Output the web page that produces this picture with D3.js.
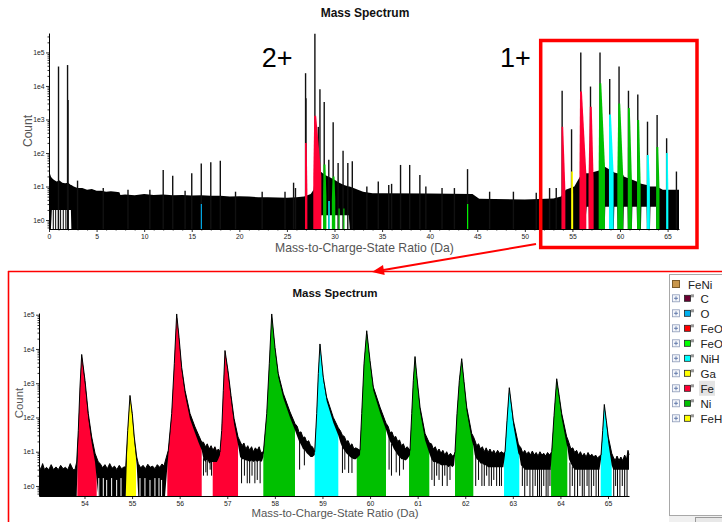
<!DOCTYPE html>
<html><head><meta charset="utf-8">
<script src="https://cdn.jsdelivr.net/npm/d3@7"></script>
<style>
html,body{margin:0;padding:0;background:#fff;overflow:hidden;}
svg{display:block;}
text{font-family:"Liberation Sans",Arial,sans-serif;}
</style></head><body>
<svg id="c" width="722" height="522"></svg>
<script>
// ---------------- text ----------------
const chartTitle = "Mass Spectrum";
const xLabel = "Mass-to-Charge-State Ratio (Da)";
const yLabel = "Count";
const chargeLabels = ["2+", "1+"];
const chargeLabelMass = [22.35, 47.4];

// ---------------- ions (legend) ----------------
const treeRoot = "FeNi";
const ionNames  = ["C", "O", "FeO", "FeO2", "NiH", "Ga", "Fe", "Ni", "FeH"];
const ionColors = ["#6b0032", "#00b0f0", "#ff0000", "#00ff00", "#00ffff", "#ffff00", "#ff0033", "#00c000", "#ffff00"];

// ---------------- ticks ----------------
const yTickValues = [1, 10, 100, 1000, 10000, 100000];
const yTickLabels = ["1e0", "1e1", "1e2", "1e3", "1e4", "1e5"];
const topXTicks  = [0, 5, 10, 15, 20, 25, 30, 35, 40, 45, 50, 55, 60, 65];
const zoomXTicks = [54, 55, 56, 57, 58, 59, 60, 61, 62, 63, 64, 65];

// ---------------- full spectrum (top) : noise band ----------------
const topMass  = [0.0,0.1,0.2,0.3,0.5,0.8,1.1,1.4,1.7,2.0,2.3,2.35,2.6,3.0,3.5,4.0,4.5,5.0,5.5,6.0,6.5,7.0,7.4,7.5,8,9,10,11,12,13,14,15,16,17,18,19,20,21,22,23,24,25,26,26.8,27.5,27.8,28.0,28.5,28.6,29.0,29.5,30.0,30.5,31.0,31.5,31.6,32.0,33.0,34.0,35,40,44.5,45.2,50,53.0,53.8,54.3,55.2,55.8,56.3,56.5,56.7,56.75,57.8,58.4,58.45,58.85,58.9,59.35,59.4,59.7,59.75,60.35,60.4,60.8,60.85,61.25,61.3,61.75,61.8,62.2,62.25,62.8,62.85,63.15,63.2,63.8,63.85,64.5,65.0,65.5,66.2];
const topUpper = [28,24,20,18,16,14,15,13,12.5,13,11,11,10,9,9,8,8.5,7.5,7.5,7,7.2,7,6.8,5.6,5.8,5.5,6,5.6,5.8,5.5,5.6,5.4,5.5,5.3,5.3,5.0,5.1,5.0,4.8,4.8,4.7,4.6,4.8,5,6,8,30,28,27,22,19,16,13,11,10,10,9,7,6.3,6.3,6.2,6,4.3,4.1,4.4,5,8,10,20,25,25,25,25,30,39,38,33,30,27,26,25,25,22,20,18,18,16,16,14,14,12,12,11,11,10,10,10,10,8,8,8,8];
const topLower = [0,0,0,2,2,2,2,2,2,2,2,0,0,0,0,0,0,0,0,0,0,0,0,0,0,0,0,0,0,0,0,0,0,0,0,0,0,0,0,0,0,0,0,0,0,0,0,0,1.4,1.4,1.4,1.4,1.4,1.4,1.4,0,0,0,0,0,0,0,0,0,0,0,0,0,0,0,2.5,2.5,0,0,0,2.5,2.5,0,0,2.5,2.5,0,0,2.5,2.5,0,0,2.5,2.5,0,0,2.5,2.5,0,0,2.5,2.5,0,0,0,0,0];
// zero-count bins at low mass
const topZeroMass = [0.45, 0.7, 0.98, 1.22, 1.5, 1.77, 2.03];
// single-bin spikes (mass, count)
const topSpikeMass  = [1.00,1.95,2.00,3.0,5.7,8.3,10.6,12.0,13.0,14.3,15.0,16.0,17.0,18.0,19.6,22.4,24.8,25.7,25.9,26.96,27.0,27.94,28.3,28.47,28.92,29.4,29.86,30.38,30.9,31.4,31.87,33.4,34.6,35.7,36.0,36.94,37.9,38.97,39.6,41.3,42.6,43.98,46.3,48.8,51.2,52.6,53.3,53.92,54.91,55.88,56.9,57.9,58.92,59.9,60.89,61.87,62.89,63.9,64.9,65.93];
const topSpikeCount = [38000,42000,3800,15,9,8,8,31,21,7.5,25,49,53,59,7,7,7,13,9,24000,4300,360000,600,8000,3300,63,820,50,117,50,57,10,14,11,12,44,44,22,10,9,9,33,7,7,6.5,9,9,7200,510,100000,9600,100000,16000,38000,7200,5600,860,1370,275,28];
// ranged (coloured) peaks in the full spectrum
const topRangeIon   = ["O","Fe","Fe","Ni","NiH","Ni","Ni","Ni","FeO2","Fe","Ga","Fe","Fe","Ni","NiH","Ni","Ni","Ni","NiH","Ni","NiH"];
const topRangeStart = [15.95,26.9,27.77,28.8,29.35,29.72,30.42,30.92,43.93,53.85,54.87,55.74,56.69,57.76,58.84,59.72,60.82,61.79,62.82,63.8,64.85];
const topRangeEnd   = [16.07,27.15,28.62,29.15,29.5,30.08,30.55,31.05,44.05,54.26,55.08,56.46,57.23,58.42,59.33,60.34,61.25,62.17,63.14,64.15,65.08];
const topRangeApex  = [16.0,26.98,27.97,28.95,29.42,29.9,30.48,30.98,43.99,53.93,54.95,55.9,56.93,57.93,58.95,59.92,60.93,61.91,62.92,63.92,64.92];
const topRangeCore  = [3,200,1300,45,3.7,20,2.2,2.2,3,610,28,6800,2400,12000,1400,3000,2200,960,87,150,100];
const topRangeBase  = [3,8,20,5,3.7,4,2.2,2.2,3,8,6,25,15,40,25,20,15,12,10,9,8];

// ---------------- zoomed spectrum (bottom) ----------------
const zoomMass = [
  53.044,53.08,53.12,53.16,53.20,53.25,53.30,53.35,53.40,53.45,53.50,53.55,53.60,53.65,53.70,53.76,53.80,
  53.836,53.870,53.905,53.941,54.011,54.080,54.151,54.221,54.290,
  54.33,54.38,54.43,54.48,54.53,54.58,54.63,54.68,54.73,54.78,54.83,
  54.866,54.908,54.956,55.004,55.046,55.097,
  55.13,55.18,55.23,55.28,55.33,55.38,55.43,55.48,55.53,55.58,55.63,55.67,
  55.692,55.761,55.832,55.887,55.937,55.986,56.042,56.112,56.217,56.322,56.40,56.463,
  56.50,56.54,56.58,56.62,56.66,56.70,56.74,56.78,56.81,
  56.847,56.883,56.917,56.952,57.015,57.078,57.141,57.226,
  57.27,57.31,57.35,57.39,57.43,57.47,57.51,57.55,57.59,57.63,57.67,57.71,57.735,
  57.757,57.829,57.883,57.934,58.003,58.072,58.177,58.318,58.423,
  58.47,58.51,58.55,58.59,58.63,58.67,58.71,58.75,58.79,
  58.837,58.879,58.913,58.948,59.017,59.088,59.228,59.333,
  59.38,59.42,59.46,59.50,59.54,59.58,59.62,59.66,59.70,
  59.789,59.825,59.873,59.930,59.999,60.069,60.209,60.335,
  60.38,60.42,60.46,60.50,60.54,60.58,60.62,60.66,60.70,60.74,60.78,
  60.839,60.876,60.909,60.945,60.981,61.050,61.155,61.245,
  61.29,61.33,61.37,61.41,61.45,61.49,61.53,61.57,61.61,61.65,61.69,61.73,61.765,
  61.785,61.827,61.876,61.926,61.975,62.031,62.136,62.170,
  62.20,62.24,62.28,62.32,62.36,62.40,62.44,62.48,62.52,62.56,62.60,62.64,62.68,62.72,62.76,62.80,
  62.836,62.878,62.926,63.010,63.115,63.136,
  63.17,63.21,63.25,63.29,63.33,63.37,63.41,63.45,63.49,63.53,63.57,63.61,63.65,63.69,63.73,63.77,63.795,
  63.817,63.866,63.922,63.975,64.027,64.132,64.145,
  64.18,64.22,64.26,64.30,64.34,64.38,64.42,64.46,64.50,64.54,64.58,64.62,64.66,64.70,64.74,64.78,64.82,
  64.853,64.889,64.922,64.965,65.006,65.078,
  65.11,65.15,65.19,65.23,65.27,65.31,65.35,65.39,65.42,65.441];
const zoomUpper = [
  4,3,4.5,3,3.5,3,4.2,3,3.6,3,4,3.2,3.5,3,4.5,3,3,
  5,42,770,6900,1200,130,27,9,5,
  4.5,3.4,4.2,3.2,4.5,3.3,3.8,3,4,3.2,3.6,
  3.6,42,440,130,27,7,
  4.5,3.4,4,3.2,4.3,3.5,3.8,3.2,4.2,3.5,4.4,3.8,
  5,11,130,3700,105000,22000,2900,620,130,53,30,19,
  19,14,17,12,15,11,14,10,12,
  10,42,620,9000,2300,440,95,27,
  20,15,18,12,15,11,14,10,13,11,14,9,10,
  9,130,3700,105000,11000,1900,500,145,66,
  55,36,38,26,27,19,21,15,14,
  10,130,1900,14000,1500,390,100,50,
  40,30,28,20,21,15,17,12,13,
  11,130,3700,34000,4600,770,200,68,
  55,36,38,26,28,20,22,15,17,12,14,
  11,130,1200,6000,1700,200,34,18,
  17,12,14,10,12,9,11,8,10,7.5,9,7.5,8,
  10,130,1200,5200,1100,200,34,28,
  22,15,17,12,14,10,13,9.5,12,9,11,8.5,11,9,10,9,
  10,83,740,83,17,15,
  13,9,11,8.5,10,8,10.5,8,9.5,7.5,10,8,9,7.5,9.5,8,9,
  10,115,1350,420,130,27,25,
  18,12,13,9.5,11,8,10,7.5,9,7,9.5,7.5,8.5,7,8,6.5,7.5,
  8,42,240,80,27,9,
  7,5.5,7.5,5.5,7,5.5,8,6,11,8];
const zoomLower = [
  0,0,0,0,0,0,0,0,0,0,0,0,0,0,0,0,0,
  0,30,700,6000,900,90,18,5,0,
  0,0,0,0,0,0,0,0,0,0,0,
  0,35,400,100,20,4,
  0,0,0,0,0,0,0,0,0,0,0,0,
  0,8,110,3300,95000,18000,2300,450,90,35,18,11,
  6,5,6,4.5,5,5,5,5,6,
  8,38,560,8000,1900,330,65,16,
  7,6,6,5.5,5.5,5,5.5,5,5.5,5,5.5,5,5.5,
  7,115,3300,95000,9000,1500,370,100,42,
  28,20,16,12,11,9,8,7,7,
  8,115,1700,12500,1250,300,70,30,
  18,13,11,9,8,7,6.5,6,6,
  8,115,3300,30000,3800,600,140,44,
  28,20,16,12,10,8,7,6,6,5.5,6,
  8,115,1050,5300,1400,150,22,9,
  6,5,5,4.5,4.5,4,4,4,4,3.5,4,3.5,4,
  8,115,1050,4600,900,150,22,15,
  8,6,5.5,4.5,4.5,4,4,3.5,3.5,3.5,3.5,3.5,3.5,3.5,3.5,3.5,
  8,72,650,60,9,8,
  4,3.5,3,3,3,3,3,3,3,3,3,3,3,3,3,3,3,
  8,100,1200,340,95,16,14,
  6,4.5,3.5,3,3,3,3,3,3,3,3,3,3,3,3,3,3,
  6,36,210,65,18,4,
  3,3,3,3,3,3,3,3,3,3];
// ranges (coloured regions) of the zoomed spectrum
const rangeIon   = ["Fe","Ga","Fe","Fe","Ni","NiH","Ni","Ni","Ni","NiH","Ni","NiH"];
const rangeStart = [53.849,54.866,55.740,56.694,57.757,58.837,59.720,60.819,61.785,62.815,63.803,64.847];
const rangeEnd   = [54.256,55.082,56.463,57.226,58.423,59.333,60.335,61.245,62.170,63.136,64.145,65.078];
// bins that dip low between peaks (mass, minimum count)
const zoomDropMass  = [56.50,56.55,56.58,56.64,56.67, 57.30,57.36,57.42,57.47,57.52,57.58,57.63,57.69, 58.52,58.62, 59.42,59.47,59.55,59.62, 60.40,60.45,60.55,60.62,60.70, 61.30,61.35,61.40,61.45,61.52,61.57,61.62,61.68, 62.22,62.28,62.35,62.40,62.45,62.50,62.55,62.60,62.66,62.72,62.76, 63.20,63.25,63.30,63.36,63.42,63.47,63.52,63.56,63.60,63.65,63.70,63.74,63.78, 64.20,64.25,64.30,64.36,64.41,64.46,64.50,64.56,64.60,64.65,64.70,64.75,64.80, 65.12,65.16,65.20,65.25,65.30,65.35,65.40];
const zoomDropCount = [2,2.5,2,3,2, 1.2,2,1.2,1.2,2,1.2,1.5,1.2, 3,4, 2.4,3,2.4,2.4, 3,2,2.5,2,3, 1.5,1,2,1.5,1,2,1,1.5, 1,1.5,1,1,2,1,1,1.5,1,1,1, 1,0,1,0,0,1,0,0,0,1,0,0,1, 0,1,0,0,1,0,0,1,0,0,1,0,0, 0,1,0,0,1,0,0];
// empty bins inside the low-mass noise floor (mass, height of the gap)
const zoomGapMass  = [54.30,54.395,54.466,54.57,54.676,54.767,55.166,55.27,55.376,55.48,55.565,55.62];
const zoomGapCount = [1.7,1.7,1.5,1.7,1.5,1.7,1.7,1.7,1.5,1.7,1.7,1.5];

// =====================================================================
const svg = d3.select("#c");
const defs = svg.append("defs");
const colorOf = n => ionColors[ionNames.indexOf(n)];

// ---------- scales ----------
const xT = d3.scaleLinear().domain([0, 66.2]).range([49, 679]);
const yT = d3.scaleLog().domain([0.54, 3.8e5]).range([229, 33]);
const cyT = v => yT(Math.max(v, 0.54));
const xB = d3.scaleLinear().domain([53.044, 65.441]).range([39, 629]);
const yB = d3.scaleLog().domain([0.51, 1.12e5]).range([496, 313]);
const cyB = v => yB(Math.max(v, 0.51));

function minorValues() {
  const m = [];
  for (let e = -1; e <= 5; e++) for (let k = 2; k <= 9; k++) m.push(k * Math.pow(10, e));
  return m;
}
function drawAxes(g, x, y, xTicks, xMinor, x0, y0, fs) {
  const [ylo, yhi] = y.domain();
  g.append("g").attr("transform", `translate(${x0},0)`)
    .call(d3.axisLeft(y).tickValues(yTickValues).tickFormat((d, i) => yTickLabels[i]).tickSize(3).tickSizeOuter(0).tickPadding(1.5));
  const aym = g.append("g").attr("transform", `translate(${x0},0)`)
    .call(d3.axisLeft(y).tickValues(minorValues().filter(v => v > ylo && v < yhi)).tickFormat("").tickSize(1.5).tickSizeOuter(0));
  aym.select(".domain").remove();
  g.append("g").attr("transform", `translate(0,${y0})`)
    .call(d3.axisBottom(x).tickValues(xTicks).tickFormat(d3.format("d")).tickSize(3).tickSizeOuter(0).tickPadding(2));
  if (xMinor.length) {
    const axm = g.append("g").attr("transform", `translate(0,${y0})`)
      .call(d3.axisBottom(x).tickValues(xMinor).tickFormat("").tickSize(1.5).tickSizeOuter(0));
    axm.select(".domain").remove();
  }
  g.selectAll(".tick line").attr("stroke", "#000").attr("stroke-width", 0.8);
  g.selectAll(".domain").attr("stroke", "#000").attr("stroke-width", 1);
  g.selectAll(".tick text").attr("font-size", fs).attr("fill", "#222")
    .attr("font-family", "'Liberation Sans Narrow','Liberation Sans',Arial,sans-serif");
}

// ================= TOP: full spectrum =================
const gt = svg.append("g");
const tIdx = d3.range(Math.min(topMass.length, topUpper.length, topLower.length));
gt.append("path").datum(tIdx)
  .attr("d", d3.area().x(i => xT(topMass[i])).y0(i => cyT(topLower[i])).y1(i => cyT(topUpper[i])))
  .attr("fill", "#000");
gt.selectAll("line.zero").data(topZeroMass).join("line")
  .attr("x1", d => xT(d)).attr("x2", d => xT(d)).attr("y1", yT.range()[0]).attr("y2", cyT(2))
  .attr("stroke", "#000").attr("stroke-width", 1);
gt.selectAll("line.spike").data(d3.range(Math.min(topSpikeMass.length, topSpikeCount.length))).join("line")
  .attr("x1", i => xT(topSpikeMass[i])).attr("x2", i => xT(topSpikeMass[i]))
  .attr("y1", yT.range()[0]).attr("y2", i => cyT(topSpikeCount[i]))
  .attr("stroke", "#111").attr("stroke-width", 1.4);
gt.selectAll("path.rng").data(d3.range(topRangeIon.length)).join("path")
  .attr("d", i => {
    const s = topRangeStart[i], e = topRangeEnd[i], a = topRangeApex[i];
    const pts = [[s, 0], [s, topRangeBase[i]], [Math.max(s, a - 0.1), topRangeCore[i]],
                 [Math.min(e, a + 0.1), topRangeCore[i]], [e, topRangeBase[i]], [e, 0]];
    return d3.line().x(p => xT(p[0])).y(p => cyT(p[1]))(pts) + "Z";
  })
  .attr("fill", i => colorOf(topRangeIon[i]));
drawAxes(gt, xT, yT, topXTicks, d3.range(0, 67).filter(v => v % 5 !== 0), 49, 229, 6.8);
svg.append("text").attr("x", 365).attr("y", 16.5).attr("text-anchor", "middle")
  .attr("font-size", 12).attr("font-weight", "bold").attr("fill", "#111").text(chartTitle);
svg.append("text").attr("x", 364.5).attr("y", 251.5).attr("text-anchor", "middle")
  .attr("font-size", 12.2).attr("fill", "#555").text(xLabel);
svg.append("text").attr("transform", "translate(31.5,131) rotate(-90)").attr("text-anchor", "middle")
  .attr("font-size", 12).attr("fill", "#555").text(yLabel);
svg.selectAll("text.charge").data(chargeLabels).join("text")
  .attr("x", (d, i) => xT(chargeLabelMass[i])).attr("y", 66.7)
  .attr("font-family", "Lato, 'Open Sans', sans-serif").attr("font-size", 27).attr("fill", "#000")
  .text(d => d);

// red selection box + arrow
svg.append("rect").attr("x", 540.7).attr("y", 40.5).attr("width", 156.3).attr("height", 207)
  .attr("fill", "none").attr("stroke", "#ff0000").attr("stroke-width", 3.5);
svg.append("line").attr("x1", 536).attr("y1", 244).attr("x2", 382).attr("y2", 270.3)
  .attr("stroke", "#ff0000").attr("stroke-width", 2);
svg.append("polygon").attr("points", "372,272 384.7,274.9 383,265.1").attr("fill", "#ff0000");

// ================= BOTTOM: zoomed panel =================
svg.append("line").attr("x1", 8).attr("x2", 722).attr("y1", 271.5).attr("y2", 271.5)
  .attr("stroke", "#ff0000").attr("stroke-width", 1.6);
svg.append("line").attr("x1", 8.5).attr("x2", 8.5).attr("y1", 271).attr("y2", 522)
  .attr("stroke", "#ff0000").attr("stroke-width", 1.6);

const gb = svg.append("g");
const zIdx = d3.range(Math.min(zoomMass.length, zoomUpper.length, zoomLower.length));
rangeIon.forEach((ion, k) => {
  defs.append("clipPath").attr("id", "rc" + k).append("rect")
    .attr("x", xB(rangeStart[k])).attr("y", 300)
    .attr("width", xB(rangeEnd[k]) - xB(rangeStart[k])).attr("height", 200);
  gb.append("path").datum(zIdx)
    .attr("d", d3.area().x(i => xB(zoomMass[i])).y0(yB.range()[0]).y1(i => cyB(zoomUpper[i])))
    .attr("fill", colorOf(ion)).attr("clip-path", `url(#rc${k})`);
});
gb.append("path").datum(zIdx)
  .attr("d", d3.area().x(i => xB(zoomMass[i])).y0(i => cyB(zoomLower[i])).y1(i => cyB(zoomUpper[i])))
  .attr("fill", "#000");
gb.append("path").datum(zIdx)
  .attr("d", d3.line().x(i => xB(zoomMass[i])).y(i => cyB(zoomUpper[i])))
  .attr("fill", "none").attr("stroke", "#000").attr("stroke-width", 1);
gb.selectAll("line.drop").data(d3.range(Math.min(zoomDropMass.length, zoomDropCount.length))).join("line")
  .attr("x1", i => xB(zoomDropMass[i])).attr("x2", i => xB(zoomDropMass[i]))
  .attr("y1", i => cyB(zoomDropCount[i]))
  .attr("y2", i => cyB(zoomLower[d3.bisectCenter(zoomMass, zoomDropMass[i])]) - 1)
  .attr("stroke", "#000").attr("stroke-width", 1);
gb.selectAll("line.gap").data(d3.range(zoomGapMass.length)).join("line")
  .attr("x1", i => xB(zoomGapMass[i])).attr("x2", i => xB(zoomGapMass[i]))
  .attr("y1", yB.range()[0]).attr("y2", i => cyB(zoomGapCount[i]))
  .attr("stroke", "#fff").attr("stroke-width", 1);
drawAxes(gb, xB, yB, zoomXTicks, [], 39, 496, 6.8);
svg.append("text").attr("x", 335).attr("y", 297).attr("text-anchor", "middle")
  .attr("font-size", 11.5).attr("font-weight", "bold").attr("fill", "#111").text(chartTitle);
svg.append("text").attr("x", 335).attr("y", 517).attr("text-anchor", "middle")
  .attr("font-size", 11.4).attr("fill", "#555").text(xLabel);
svg.append("text").attr("transform", "translate(23,403) rotate(-90)").attr("text-anchor", "middle")
  .attr("font-size", 11.4).attr("fill", "#555").text(yLabel);

// ================= legend tree =================
const lg = svg.append("g");
lg.append("rect").attr("x", 669.5).attr("y", 274.5).attr("width", 60).attr("height", 241)
  .attr("fill", "#fff").attr("stroke", "#a8a8a8");
lg.append("rect").attr("x", 669).attr("y", 516).attr("width", 53).attr("height", 6).attr("fill", "#f0f0f0");
lg.append("rect").attr("x", 695.5).attr("y", 517.5).attr("width", 40).attr("height", 10)
  .attr("fill", "#e8e8e8").attr("stroke", "#9a9a9a");
lg.append("rect").attr("x", 672.5).attr("y", 280.5).attr("width", 7).attr("height", 7)
  .attr("fill", "#c8964b").attr("stroke", "#7a5a2a");
lg.append("text").attr("x", 688).attr("y", 288.5).attr("font-size", 11.5).attr("fill", "#222").text(treeRoot);
ionNames.forEach((n, i) => {
  const cy = 298.3 + 15 * i;
  if (n === "Fe") lg.append("rect").attr("x", 699).attr("y", cy - 7.5).attr("width", 16).attr("height", 15).attr("fill", "#e4e4e4");
  lg.append("rect").attr("x", 672.5).attr("y", cy - 3.5).attr("width", 7).attr("height", 7)
    .attr("fill", "#f4f6fa").attr("stroke", "#8c9ab8").attr("stroke-width", 0.8);
  lg.append("path").attr("d", `M${674},${cy}H${678}M${676},${cy - 2}V${cy + 2}`)
    .attr("stroke", "#4a64a0").attr("stroke-width", 0.8);
  lg.append("rect").attr("x", 684.5).attr("y", cy - 3).attr("width", 6).attr("height", 6)
    .attr("fill", ionColors[i]).attr("stroke", "#222").attr("stroke-width", 0.8);
  lg.append("rect").attr("x", 691).attr("y", cy - 4).attr("width", 3).attr("height", 3).attr("fill", "#999");
  lg.append("text").attr("x", 700.5).attr("y", cy + 4.2).attr("font-size", 11.5).attr("fill", "#222").text(n);
});
</script>
</body></html>
